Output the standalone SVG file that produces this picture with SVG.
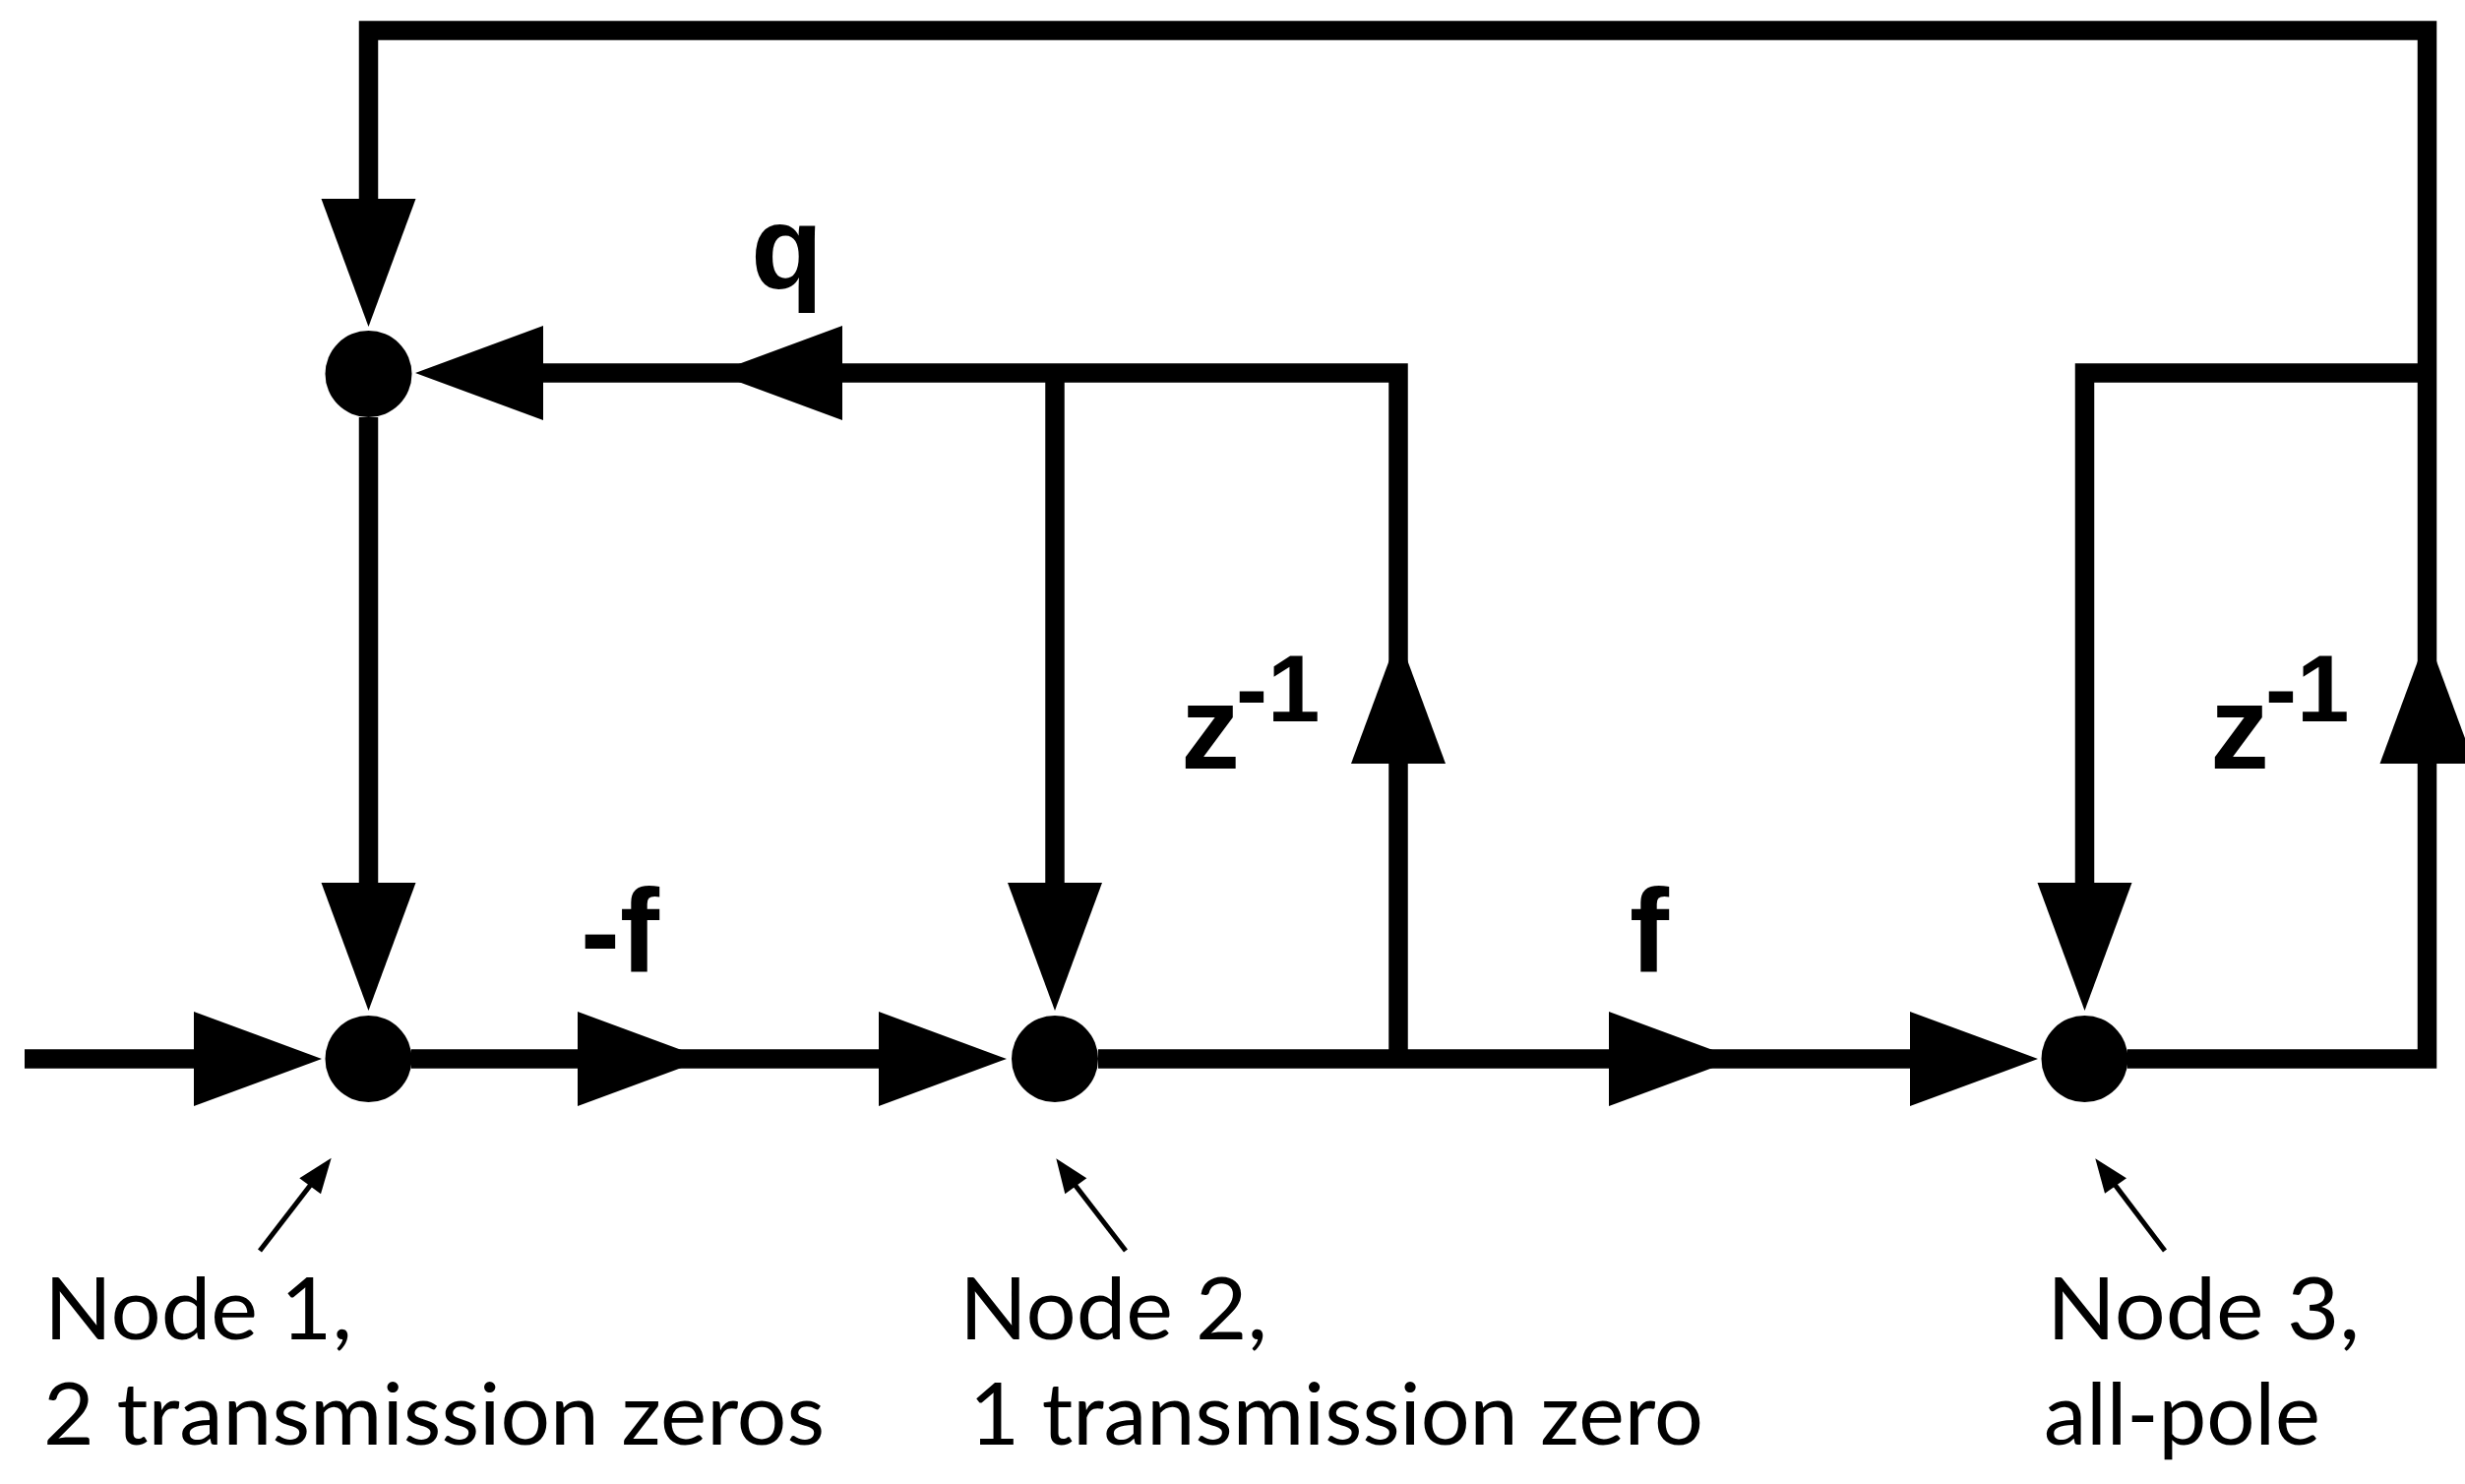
<svg xmlns="http://www.w3.org/2000/svg" xmlns:xlink="http://www.w3.org/1999/xlink" width="2505" height="1508" viewBox="0 0 2505 1508">
  <defs>
    <style>
      .wire { fill: none; stroke: #000; stroke-width: 19.5; stroke-linejoin: miter; stroke-linecap: butt; }
      .ptr { fill: none; stroke: #000; stroke-width: 5; }
      .node { fill: #000; }
      .ah { fill: #000; }
      .lbl { font-family: "Liberation Sans", Arial, sans-serif; font-weight: bold; font-size: 120px; fill: #000; }
      .sup { font-size: 96px; }
      .note { font-family: Lato, "Liberation Sans", sans-serif; font-size: 88px; fill: #000; }
    </style>
    <path id="ah" class="ah" d="M0,0 L-130,-48 L-130,48 Z"/>
  </defs>
  <rect width="2505" height="1508" fill="#fff"/>

  <g id="connectors">
    <!-- input into node 1 -->
    <path class="wire" d="M25,1076 H200"/>
    <!-- node 1 to node 2 -->
    <path class="wire" d="M418,1076 H897"/>
    <!-- node 2 to node 3 -->
    <path class="wire" d="M1116,1076 H1943"/>
    <!-- node 3 outer feedback to node q -->
    <path class="wire" d="M2162,1076 H2466.5 V31 H374.5 V205"/>
    <!-- node 3 self loop -->
    <path class="wire" d="M2466.5,379 H2118.5 V900"/>
    <!-- node 2 loop -->
    <path class="wire" d="M1421,1076 V379 H549"/>
    <path class="wire" d="M1072,379 V900"/>
    <!-- node q to node 1 -->
    <path class="wire" d="M374.5,424 V900"/>

    <!-- arrowheads -->
    <use xlink:href="#ah" transform="translate(374.5,332) rotate(90)"/>
    <use xlink:href="#ah" transform="translate(374.5,1027) rotate(90)"/>
    <use xlink:href="#ah" transform="translate(1072,1027) rotate(90)"/>
    <use xlink:href="#ah" transform="translate(2118.5,1027) rotate(90)"/>
    <use xlink:href="#ah" transform="translate(1421,646) rotate(-90)"/>
    <use xlink:href="#ah" transform="translate(2466.5,646) rotate(-90)"/>
    <use xlink:href="#ah" transform="translate(422,379) rotate(180)"/>
    <use xlink:href="#ah" transform="translate(726,379) rotate(180)"/>
    <use xlink:href="#ah" transform="translate(327,1076)"/>
    <use xlink:href="#ah" transform="translate(717,1076)"/>
    <use xlink:href="#ah" transform="translate(1023,1076)"/>
    <use xlink:href="#ah" transform="translate(1765,1076)"/>
    <use xlink:href="#ah" transform="translate(2071,1076)"/>

    <!-- pointer arrows to node labels -->
    <line class="ptr" x1="264" y1="1271" x2="318" y2="1201"/>
    <polygon class="ah" points="336.7,1176.7 304.3,1197.3 326,1213.3"/>
    <line class="ptr" x1="1144" y1="1271" x2="1090" y2="1201"/>
    <polygon class="ah" points="1073.3,1177.3 1082.3,1213.3 1104.3,1197.3"/>
    <line class="ptr" x1="2200" y1="1271" x2="2147" y2="1201"/>
    <polygon class="ah" points="2129.3,1177.3 2139,1212.7 2161,1197.3"/>
  </g>

  <g id="nodeQ"><circle class="node" cx="374.5" cy="380" r="44"/></g>
  <g id="node1"><circle class="node" cx="374.5" cy="1076" r="44"/></g>
  <g id="node2"><circle class="node" cx="1072" cy="1076" r="44"/></g>
  <g id="node3"><circle class="node" cx="2118.5" cy="1076" r="44"/></g>

  <g id="labels">
    <text class="lbl" x="763" y="293">q</text>
    <text class="lbl" x="590" y="988">-f</text>
    <text class="lbl" x="1656" y="988">f</text>
    <text class="lbl" x="1200" y="781">z<tspan class="sup" x="1256" y="733">-</tspan><tspan class="sup" x="1288" y="733">1</tspan></text>
    <text class="lbl" x="2246" y="781">z<tspan class="sup" x="2302" y="733">-</tspan><tspan class="sup" x="2334" y="733">1</tspan></text>
  </g>

  <g id="notes">
    <text class="note" x="45" y="1361" textLength="313" lengthAdjust="spacingAndGlyphs">Node 1,</text>
    <text class="note" x="44" y="1468" textLength="794" lengthAdjust="spacingAndGlyphs">2 transmission zeros</text>
    <text class="note" x="975" y="1361" textLength="313" lengthAdjust="spacingAndGlyphs">Node 2,</text>
    <text class="note" x="985" y="1468" textLength="746" lengthAdjust="spacingAndGlyphs">1 transmission zero</text>
    <text class="note" x="2080" y="1361" textLength="318" lengthAdjust="spacingAndGlyphs">Node 3,</text>
    <text class="note" x="2077" y="1468" textLength="281" lengthAdjust="spacingAndGlyphs">all-pole</text>
  </g>
</svg>
